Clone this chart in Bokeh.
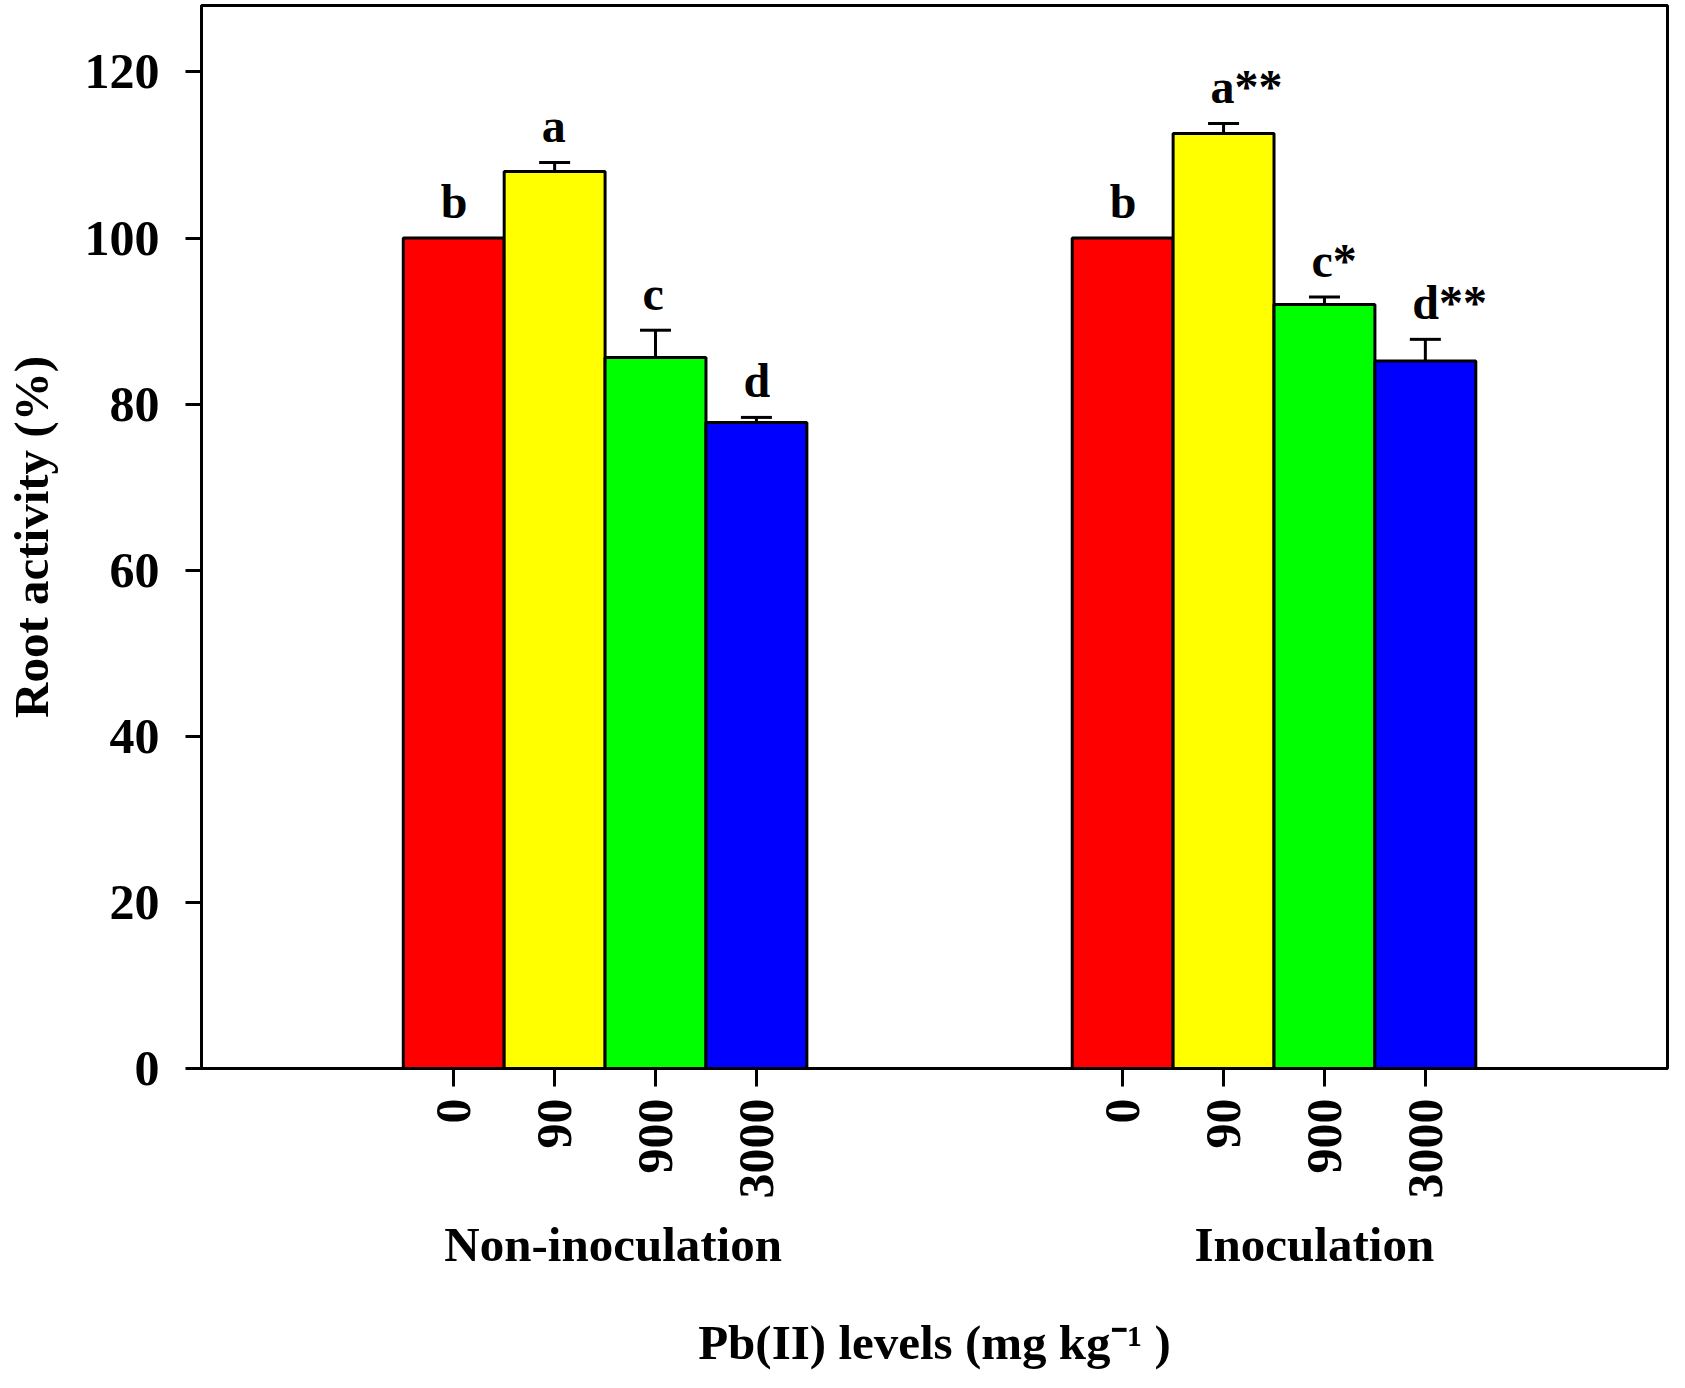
import math
from bokeh.plotting import figure
from bokeh.models import (Range1d, FixedTicker, CustomJSTickFormatter, LinearAxis,
                          ColumnDataSource, Whisker, TeeHead)
from bokeh.core.properties import value
from bokeh.embed import file_html
from bokeh.resources import INLINE

# ---------------- data ----------------
levels = ["0", "90", "900", "3000"]
groups = ["Non-inoculation", "Inoculation"]
colors = ["#ff0000", "#ffff00", "#00ff00", "#0000ff"]
non_inoc = [100.0, 108.0, 85.6, 77.8]
non_inoc_err = [0.0, 1.1, 3.3, 0.6]
inoc = [100.0, 112.6, 92.0, 85.2]
inoc_err = [0.0, 1.2, 0.9, 2.6]
non_inoc_letters = ["b", "a", "c", "d"]
inoc_letters = ["b", "a**", "c*", "d**"]
y_ticks = [0, 20, 40, 60, 80, 100, 120]

# ---------------- layout / style constants ----------------
BAR_W = 1.0
group_starts = [2.0, 8.63]
X_END = 14.53
Y_END = 128.0
LETTER_GAP = 4.4
group_label_x = [4.08, 11.03]
FONT = value("Liberation Serif")
FONT_NAME = "Liberation Serif"

xs, tops, his, cols, lets, errs = [], [], [], [], [], []
for start, vals, errv, lab in [(group_starts[0], non_inoc, non_inoc_err, non_inoc_letters),
                               (group_starts[1], inoc, inoc_err, inoc_letters)]:
    for i in range(len(levels)):
        xs.append(start + i * BAR_W + BAR_W / 2)
        tops.append(vals[i])
        errs.append(errv[i])
        his.append(vals[i] + errv[i])
        cols.append(colors[i])
        lets.append(lab[i])

src = ColumnDataSource(dict(x=xs, top=tops, hi=his, ly=[h + LETTER_GAP for h in his],
                            color=cols, letter=lets))
err_idx = [k for k in range(len(xs)) if errs[k] > 0]
err_src = ColumnDataSource(dict(x=[xs[k] for k in err_idx],
                                top=[tops[k] for k in err_idx],
                                hi=[his[k] for k in err_idx]))

p = figure(width=1669, height=1372, x_range=Range1d(0, X_END), y_range=Range1d(0, Y_END),
           output_backend="svg", toolbar_location=None,
           min_border_left=201, min_border_right=2, min_border_top=5, min_border_bottom=0)
p.outline_line_color = "black"
p.outline_line_width = 3
p.grid.visible = False
p.background_fill_color = "white"
p.border_fill_color = "white"

p.vbar(x="x", top="top", bottom=0, width=BAR_W, fill_color="color",
       line_color="black", line_width=3, source=src)

wh = Whisker(source=err_src, base="x", lower="top", upper="hi", dimension="height",
             line_color="black", line_width=3,
             upper_head=TeeHead(size=31, line_color="black", line_width=3),
             lower_head=None)
p.add_layout(wh)

p.text(x="x", y="ly", text="letter", source=src, x_offset=-13,
       text_align="left", text_baseline="alphabetic", text_font=FONT,
       text_font_style="bold", text_font_size="48px", text_color="black")

# y axis
ya = p.yaxis[0]
ya.ticker = FixedTicker(ticks=y_ticks)
ya.axis_label = "Root activity (%)"
ya.axis_label_text_font = FONT_NAME
ya.axis_label_text_font_style = "bold"
ya.axis_label_text_font_size = "49px"
ya.axis_label_text_color = "black"
ya.axis_label_standoff = 23
ya.major_label_text_font = FONT_NAME
ya.major_label_text_font_style = "bold"
ya.major_label_text_font_size = "50px"
ya.major_label_text_color = "black"
ya.major_label_standoff = 26
ya.major_tick_out = 16
ya.major_tick_in = 0
ya.minor_tick_line_color = None
ya.axis_line_width = 3
ya.major_tick_line_width = 3

# x axis (Pb levels)
xa = p.xaxis[0]
xa.ticker = FixedTicker(ticks=xs)
xa.formatter = CustomJSTickFormatter(args=dict(labels=levels * 2), code="return labels[index];")
xa.major_label_orientation = math.pi / 2
xa.major_label_text_font = FONT_NAME
xa.major_label_text_font_style = "bold"
xa.major_label_text_font_size = "50px"
xa.major_label_text_color = "black"
xa.major_label_standoff = 12
xa.major_tick_out = 18
xa.major_tick_in = 0
xa.minor_tick_line_color = None
xa.axis_line_width = 3
xa.major_tick_line_width = 3

# group axis with the x title
ga = LinearAxis(ticker=FixedTicker(ticks=group_label_x),
                formatter=CustomJSTickFormatter(args=dict(labels=groups), code="return labels[index];"))
ga.axis_line_color = None
ga.major_tick_line_color = None
ga.minor_tick_line_color = None
ga.major_label_text_font = FONT_NAME
ga.major_label_text_font_style = "bold"
ga.major_label_text_font_size = "49px"
ga.major_label_text_color = "black"
ga.major_label_standoff = 9
ga.axis_label = "Pb(II) levels (mg kg\u207b\u00b9 )"
ga.axis_label_text_font = FONT_NAME
ga.axis_label_text_font_style = "bold"
ga.axis_label_text_font_size = "49px"
ga.axis_label_text_color = "black"
ga.axis_label_standoff = 40
p.add_layout(ga, "below")

open("out.html", "w").write(file_html(p, INLINE))
